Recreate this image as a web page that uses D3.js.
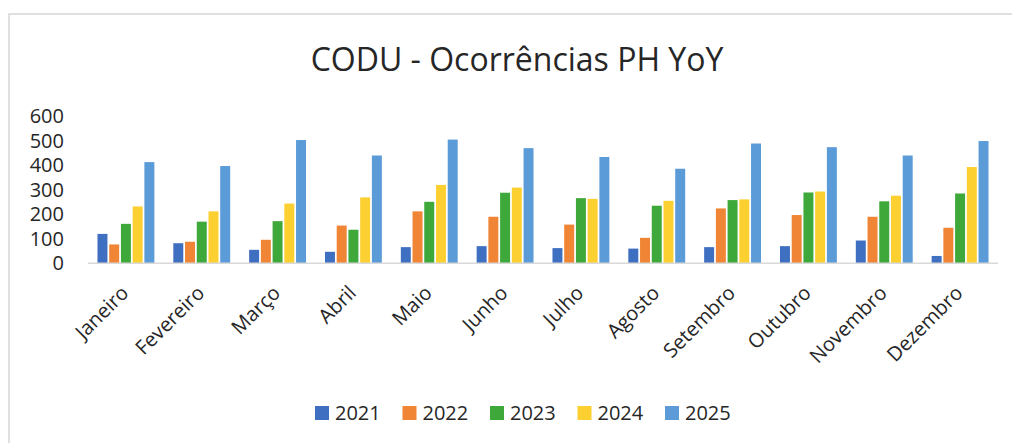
<!DOCTYPE html>
<html>
<head>
<meta charset="utf-8">
<script src="https://cdn.jsdelivr.net/npm/d3@7"></script>
<style>
  body { margin: 0; background: #fff; }
  svg { font-family: "Open Sans", sans-serif; }
</style>
</head>
<body>
<svg width="1012" height="443"></svg>
<script>
// months and series
const months = ['Janeiro', 'Fevereiro', 'Março', 'Abril', 'Maio', 'Junho',
  'Julho', 'Agosto', 'Setembro', 'Outubro', 'Novembro', 'Dezembro'];
const years = ['2021', '2022', '2023', '2024', '2025'];

const v2021 = [120, 82, 55, 47, 66, 70, 62, 60, 66, 70, 93, 30];
const v2022 = [77, 88, 96, 154, 212, 190, 158, 104, 224, 197, 190, 145];
const v2023 = [161, 170, 172, 137, 251, 288, 266, 235, 258, 289, 253, 285];
const v2024 = [232, 212, 244, 269, 320, 309, 263, 255, 261, 293, 276, 393];
const v2025 = [413, 397, 503, 440, 505, 470, 434, 386, 489, 474, 440, 499];

const yTicks = [0, 100, 200, 300, 400, 500, 600];
const colors = ['#3f6fc1', '#ef8535', '#3ea93a', '#fdd031', '#5a9bd8'];

const series = [v2021, v2022, v2023, v2024, v2025];

const svg = d3.select('svg');

// faint frame from the scan
svg.append('path')
  .attr('d', 'M9,443V14H1012')
  .attr('fill', 'none')
  .attr('stroke', '#d6d6d6')
  .attr('stroke-width', 1.5);

svg.append('text')
  .attr('x', 517)
  .attr('y', 71)
  .attr('text-anchor', 'middle')
  .attr('font-size', 32)
  .attr('fill', '#262626')
  .text('CODU - Ocorrências PH YoY');

const x0 = d3.scaleBand()
  .domain(months)
  .range([88, 998])
  .paddingInner(0.25)
  .paddingOuter(0.125);

const x1 = d3.scaleBand()
  .domain(years)
  .range([0, x0.bandwidth()])
  .paddingInner(0.15);

const y = d3.scaleLinear()
  .domain([0, 600])
  .range([263.3, 116.3]);

const color = d3.scaleOrdinal().domain(years).range(colors);

// y labels (no axis line)
const yAxis = svg.append('g')
  .attr('transform', 'translate(64,0)')
  .call(d3.axisLeft(y).tickValues(yTicks).tickSize(0).tickPadding(0));
yAxis.select('.domain').remove();
yAxis.selectAll('text')
  .attr('font-size', 20)
  .attr('font-family', '"Open Sans", sans-serif')
  .attr('fill', '#262626');

// bars
const groups = svg.append('g')
  .selectAll('g')
  .data(months)
  .enter().append('g')
    .attr('transform', d => `translate(${x0(d)},0)`);

groups.selectAll('rect')
  .data((d, i) => years.map((yr, j) => ({ year: yr, value: series[j][i] })))
  .enter().append('rect')
    .attr('x', d => x1(d.year))
    .attr('width', x1.bandwidth())
    .attr('y', d => y(d.value))
    .attr('height', d => y(0) - y(d.value))
    .attr('fill', d => color(d.year));

// baseline
svg.append('line')
  .attr('x1', 88).attr('x2', 998)
  .attr('y1', y(0)).attr('y2', y(0))
  .attr('stroke', '#d9d9d9')
  .attr('stroke-width', 1.5);

// month labels, slanted
svg.append('g')
  .selectAll('text')
  .data(months)
  .enter().append('text')
    .attr('transform', d => `translate(${x0(d) + x0.bandwidth() / 2 - 6},${y(0) + 21}) rotate(-45)`)
    .attr('text-anchor', 'end')
    .attr('dy', '0.7em')
    .attr('font-size', 20)
    .attr('fill', '#262626')
    .text(d => d);

// legend
const legend = svg.append('g')
  .selectAll('g')
  .data(years)
  .enter().append('g')
    .attr('transform', (d, i) => `translate(${315 + i * 87.5},413)`);

legend.append('rect')
  .attr('x', 0).attr('y', -7)
  .attr('width', 14).attr('height', 14)
  .attr('fill', d => color(d));

legend.append('text')
  .attr('x', 20)
  .attr('dy', '0.35em')
  .attr('font-size', 20)
  .attr('fill', '#262626')
  .text(d => d);
</script>
</body>
</html>
